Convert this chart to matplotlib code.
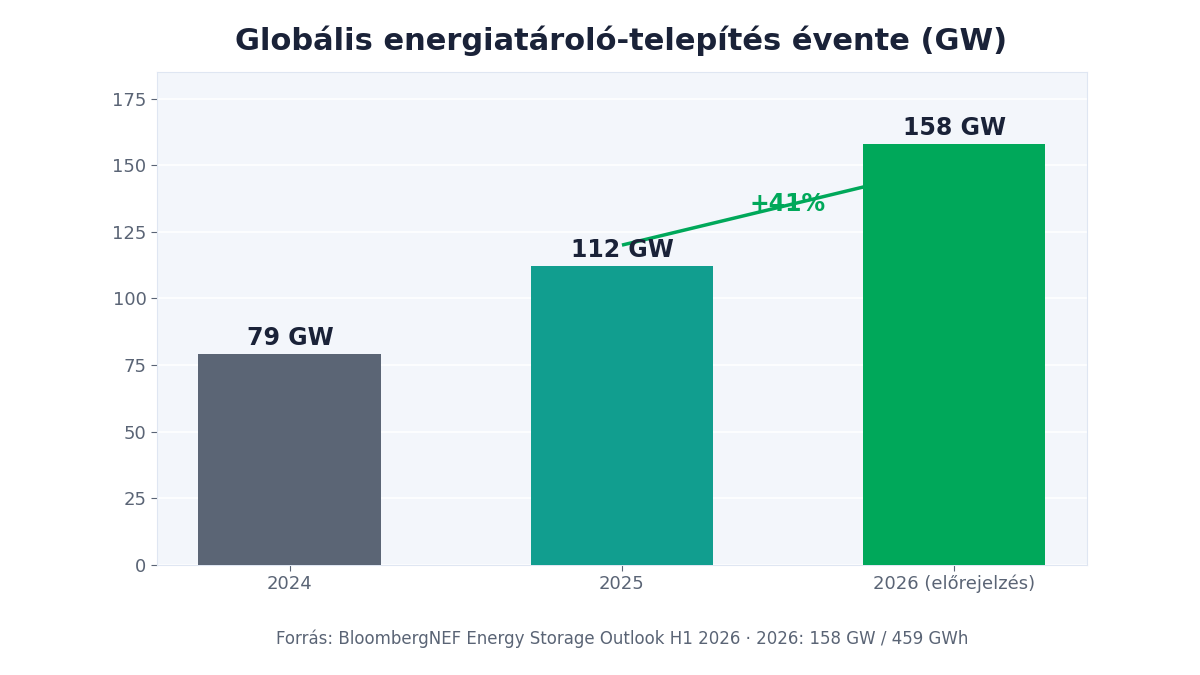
import matplotlib
matplotlib.use("Agg")
import matplotlib.pyplot as plt

categories = ["2024", "2025", "2026 (előrejelzés)"]
values = [79, 112, 158]
value_labels = ["79 GW", "112 GW", "158 GW"]
bar_colors = ["#5b6575", "#119e8f", "#00a85a"]
growth_label = "+41%"
growth_line_y = [120, 150]
growth_text_y = 135.3
yticks = [0, 25, 50, 75, 100, 125, 150, 175]

title = "Globális energiatároló-telepítés évente (GW)"
footer = "Forrás: BloombergNEF Energy Storage Outlook H1 2026 · 2026: 158 GW / 459 GWh"

plt.rcParams['font.family'] = ['DejaVu Sans']
fig = plt.figure(figsize=(12, 6.75), dpi=100)
ax = fig.add_axes([0.1308, 0.163, 0.775, 0.730])
ax.set_facecolor("#f3f6fb")

x = list(range(len(categories)))
ax.plot([1, 2], growth_line_y, color="#00a85a", lw=2.5, zorder=2, solid_capstyle='butt')
ax.bar(x, values, width=0.55, color=bar_colors, zorder=3)
for xi, v, lab in zip(x, values, value_labels):
    ax.annotate(lab, (xi, v), xytext=(0, 3), textcoords="offset points",
                ha="center", va="bottom", fontsize=17, fontweight="bold",
                color="#1a2238", zorder=4)
ax.text(1.5, growth_text_y, growth_label, ha="center", va="center", fontsize=17,
        fontweight="bold", color="#00a85a", zorder=4)

ax.set_xlim(-0.4, 2.4)
ax.set_ylim(0, 158 * 1.17)
ax.set_xticks(x)
ax.set_xticklabels(categories)
ax.set_yticks(yticks)
ax.tick_params(axis="both", colors="#5a6475", labelsize=13, length=4, width=0.8)
ax.tick_params(axis="x", pad=3)
ax.grid(axis="y", color="white", lw=1.2, zorder=1)
ax.set_axisbelow(True)
for s in ax.spines.values():
    s.set_color("#dfe6f2")
    s.set_linewidth(0.8)

fig.text(0.5175, 0.939, title, ha="center", va="center", fontsize=22,
         fontweight="bold", color="#1a2238")
fig.text(0.5183, 0.0535, footer, ha="center", va="center", fontsize=12,
         color="#5a6475")

fig.savefig("out.png", dpi=100)
